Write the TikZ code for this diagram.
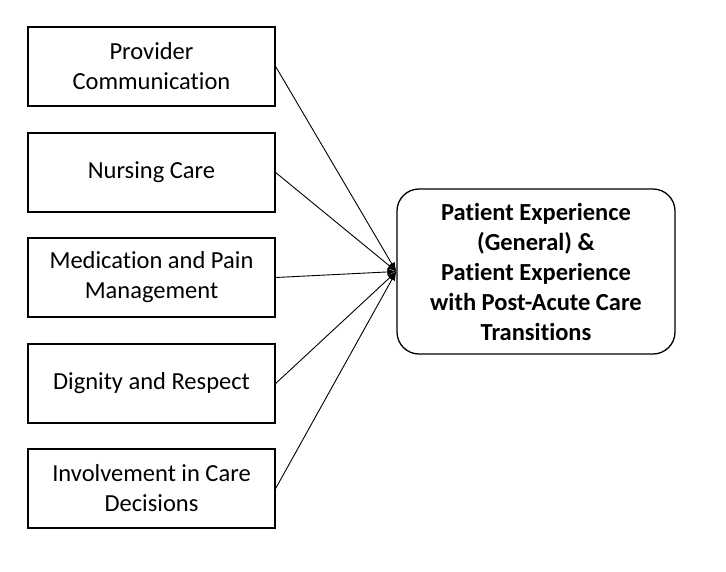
\documentclass[tikz,border=0pt]{standalone}
\usepackage{fontspec}
\setmainfont[Ligatures=NoCommon]{Carlito}
\usetikzlibrary{arrows.meta}
\usetikzlibrary{calc,positioning}

\tikzset{
  factor/.style={draw,line width=1.3pt,minimum width=247pt,minimum height=79pt,
    align=center,inner sep=0pt,font=\fontsize{24.5}{30}\selectfont},
  outcome/.style={draw,line width=1.3pt,rounded corners=22pt,minimum width=278pt,
    minimum height=165pt,align=center,inner sep=0pt,font=\fontsize{24.5}{30}\selectfont\bfseries},
  link/.style={-{Latex[length=9pt,width=7pt]},line width=0.9pt}
}

\begin{document}
\begin{tikzpicture}[x=1pt,y=-1pt]
          % Cadre
          \useasboundingbox (0,0) rectangle (726,571);

          % Resultat
          \node[outcome] (res) at (536,271.5)
            {Patient Experience\\(General) \&\\Patient Experience\\with Post-Acute Care\\Transitions};

          % Facteurs
          \node[factor] (prov) at (151.5,66.5) {Provider\\Communication};
          \node[factor] (nurs) at (151.5,172.5) {Nursing Care};
          \node[factor] (medi) at (151.5,277.5) {Medication and Pain\\Management};
          \node[factor] (dign) at (151.5,383.5) {Dignity and Respect};
          \node[factor] (invo) at (151.5,488.5) {Involvement in Care\\Decisions};

          % Liens
          \foreach \fid in {prov,nurs,medi,dign,invo} {
            \draw[link] (\fid.east) -- (res.west);
          }
\end{tikzpicture}
\end{document}
